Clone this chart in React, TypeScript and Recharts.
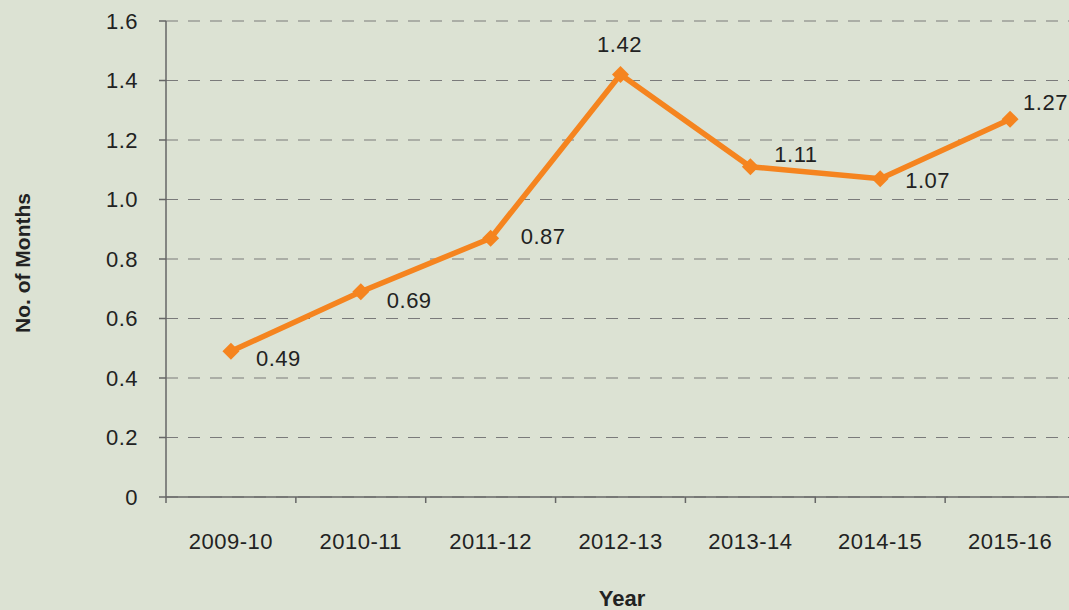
import React from 'react';
import { LineChart, Line, XAxis, YAxis, CartesianGrid, LabelList } from 'recharts';

const years = ['2009-10', '2010-11', '2011-12', '2012-13', '2013-14', '2014-15', '2015-16'];
const months = [0.49, 0.69, 0.87, 1.42, 1.11, 1.07, 1.27];
const yTicks = [0, 0.2, 0.4, 0.6, 0.8, 1.0, 1.2, 1.4, 1.6];

// where each value label sits relative to its point (dx, dy, anchor)
const labelNudge: [number, number, string][] = [
  [25, 15, 'start'],
  [26, 16, 'start'],
  [30, 6, 'start'],
  [-1, -23, 'middle'],
  [24, -5, 'start'],
  [25, 9, 'start'],
  [13, -9, 'start'],
];

const BG = '#dce2d3';
const ORANGE = '#f5841f';
const FONT = '"Liberation Sans", Arial, Helvetica, sans-serif';

const CHART_W = 1075;
const CHART_H = 610;
const Y_AXIS_W = 166;
const MARGIN = { top: 21, right: 0, left: 0, bottom: 0 };
const PLOT_W = CHART_W - MARGIN.left - MARGIN.right - Y_AXIS_W;

// points sit in the middle of each year's band, tick marks on the band edges
const data = years.map((year, i) => ({ x: i + 0.5, year, months: months[i] }));
const xTicks = years.map((_, i) => i).concat(years.length);

const XTick = (props: any) => {
  const { x, y, payload } = props;
  const idx = payload.value;
  if (idx >= years.length) return null;
  const half = PLOT_W / years.length / 2;
  return (
    <text x={x + half} y={y} dy="0.71em" textAnchor="middle" fontSize={22} letterSpacing={0.5} fill="#222" fontFamily={FONT}>
      {years[idx]}
    </text>
  );
};

const Diamond = (props: any) => {
  const { cx, cy } = props;
  if (cx == null || cy == null) return null;
  const r = 8.5;
  return <polygon points={`${cx},${cy - r} ${cx + r},${cy} ${cx},${cy + r} ${cx - r},${cy}`} fill={ORANGE} />;
};

const ValueLabel = (props: any) => {
  const { x, y, value, index } = props;
  const [dx, dy, anchor] = labelNudge[index] || [20, 0, 'start'];
  return (
    <text x={x + dx} y={y + dy} textAnchor={anchor} fontSize={22} letterSpacing={0.5} fill="#222" fontFamily={FONT}>
      {Number(value).toFixed(2)}
    </text>
  );
};

const YTitle = (props: any) => {
  const vb = props.viewBox || { x: 0, y: 0, height: 0 };
  const cx = 22;
  const cy = vb.y + vb.height / 2 + 4;
  return (
    <text x={cx} y={cy} transform={`rotate(-90 ${cx} ${cy})`} textAnchor="middle" dominantBaseline="central"
      fontSize={21} fontWeight="bold" fill="#222" fontFamily={FONT}>
      No. of Months
    </text>
  );
};

const XTitle = (props: any) => {
  const vb = props.viewBox || { x: 0, y: 0, width: 0, height: 0 };
  return (
    <text x={vb.x + 456} y={vb.y + 109} textAnchor="middle" fontSize={22} fontWeight="bold" fill="#222" fontFamily={FONT}>
      Year
    </text>
  );
};

export default function App() {
  return (
    <div style={{ position: 'fixed', left: 0, top: 0, width: 1069, height: 610, overflow: 'hidden', background: BG }}>
      <LineChart width={CHART_W} height={CHART_H} data={data} margin={MARGIN}>
        <CartesianGrid vertical={false} strokeDasharray="12 10" stroke="#7a7a7a" strokeWidth={1.2} />
        <XAxis
          dataKey="x"
          type="number"
          domain={[0, years.length]}
          ticks={xTicks}
          interval={0}
          height={113}
          tickSize={6}
          tickMargin={30}
          axisLine={{ stroke: '#666', strokeWidth: 1.5 }}
          tickLine={{ stroke: '#666', strokeWidth: 1.5 }}
          tick={<XTick />}
          label={<XTitle />}
        />
        <YAxis
          width={Y_AXIS_W}
          domain={[0, 1.6]}
          ticks={yTicks}
          interval={0}
          tickSize={7}
          tickMargin={21}
          tickFormatter={(v: number) => (v === 0 ? '0' : v.toFixed(1))}
          axisLine={{ stroke: '#666', strokeWidth: 1.5 }}
          tickLine={{ stroke: '#666', strokeWidth: 1.5 }}
          tick={{ fontSize: 22, fill: '#222', fontFamily: FONT, letterSpacing: 0.5 }}
          label={<YTitle />}
        />
        <Line
          dataKey="months"
          stroke={ORANGE}
          strokeWidth={5.5}
          dot={<Diamond />}
          activeDot={false}
          isAnimationActive={false}
        >
          <LabelList dataKey="months" content={<ValueLabel />} />
        </Line>
      </LineChart>
    </div>
  );
}
